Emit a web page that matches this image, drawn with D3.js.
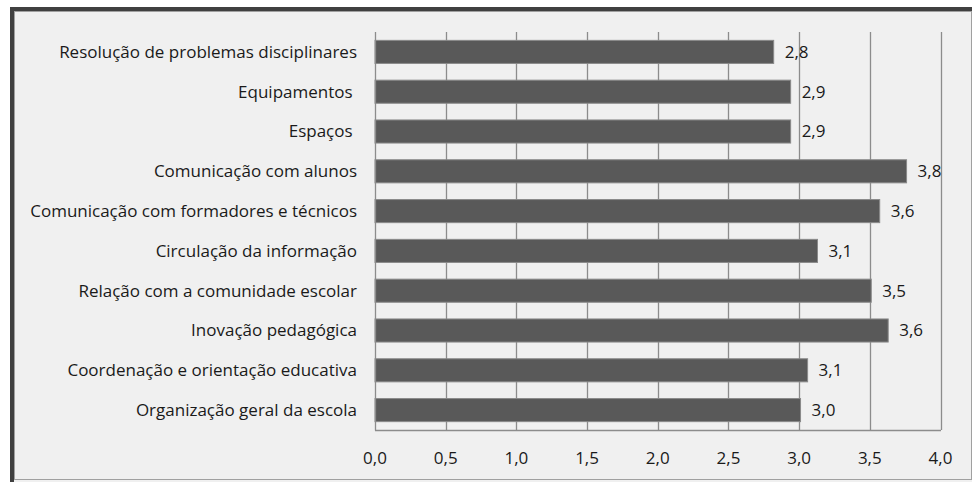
<!DOCTYPE html>
<html><head><meta charset="utf-8">
<script src="https://cdn.jsdelivr.net/npm/d3@7"></script>
<style>body{margin:0;background:#fff}svg{display:block}</style>
</head><body>
<script>
const categories = ["Resolução de problemas disciplinares","Equipamentos ","Espaços ","Comunicação com alunos","Comunicação com formadores e técnicos","Circulação da informação","Relação com a comunidade escolar","Inovação pedagógica","Coordenação e orientação educativa","Organização geral da escola"];
const values = [2.82,2.94,2.94,3.76,3.57,3.13,3.51,3.63,3.06,3.01];
const ticks = [0,0.5,1,1.5,2,2.5,3,3.5,4];

const W=972,H=482;
const svg=d3.select("body").append("svg").attr("width",W).attr("height",H);
svg.append("rect").attr("x",10).attr("y",7).attr("width",W-10).attr("height",H-7).attr("fill","#404040");
svg.append("rect").attr("x",14).attr("y",11).attr("width",W-14).attr("height",H-11).attr("fill","#f0f0f0");
svg.append("rect").attr("x",14.5).attr("y",11.5).attr("width",W-15).attr("height",468).attr("fill","none").attr("stroke","#a0a0a0");

const x=d3.scaleLinear().domain([0,4]).range([375,940.5]);
const y=d3.scaleBand().domain(categories).range([32,430]).paddingInner(0.42).paddingOuter(0.21);
const font="'Open Sans', 'Noto Sans', sans-serif";
const fs=17;

const g=svg.append("g");
g.selectAll("line.grid").data(ticks.slice(1)).join("line").attr("class","grid")
 .attr("x1",d=>Math.round(x(d))+0.5).attr("x2",d=>Math.round(x(d))+0.5).attr("y1",32).attr("y2",430)
 .attr("stroke","#8c8c8c").attr("stroke-width",1.3);

g.selectAll("rect.bar").data(values).join("rect").attr("class","bar")
 .attr("x",x(0)).attr("y",(d,i)=>y(categories[i]))
 .attr("width",d=>x(d)-x(0)).attr("height",y.bandwidth())
 .attr("fill","#595959").attr("stroke","#8a8a8a").attr("stroke-width",1);

g.append("line").attr("x1",375.5).attr("x2",375.5).attr("y1",32).attr("y2",430.5).attr("stroke","#8c8c8c").attr("stroke-width",1.3);
g.append("line").attr("x1",375).attr("x2",941).attr("y1",430.5).attr("y2",430.5).attr("stroke","#8c8c8c").attr("stroke-width",1.3);

const fmt=d=>d3.format(".1f")(d).replace(".",",");
g.selectAll("text.val").data(values).join("text").attr("class","val")
 .attr("x",d=>x(d)+11).attr("y",(d,i)=>y(categories[i])+y.bandwidth()/2)
 .attr("dy","0.35em").attr("font-family",font).attr("font-size",fs).attr("fill","#1a1a1a").text(fmt);

g.selectAll("text.cat").data(categories).join("text").attr("class","cat")
 .attr("x",357).attr("y",d=>y(d)+y.bandwidth()/2).attr("dy","0.35em").attr("text-anchor","end")
 .style("white-space","pre").attr("font-family",font).attr("font-size",fs).attr("fill","#1a1a1a").text(d=>d);

g.selectAll("text.tick").data(ticks).join("text").attr("class","tick")
 .attr("x",d=>x(d)).attr("y",458).attr("dy","0.35em").attr("text-anchor","middle")
 .attr("font-family",font).attr("font-size",fs).attr("fill","#1a1a1a").text(fmt);
</script>
</body></html>
